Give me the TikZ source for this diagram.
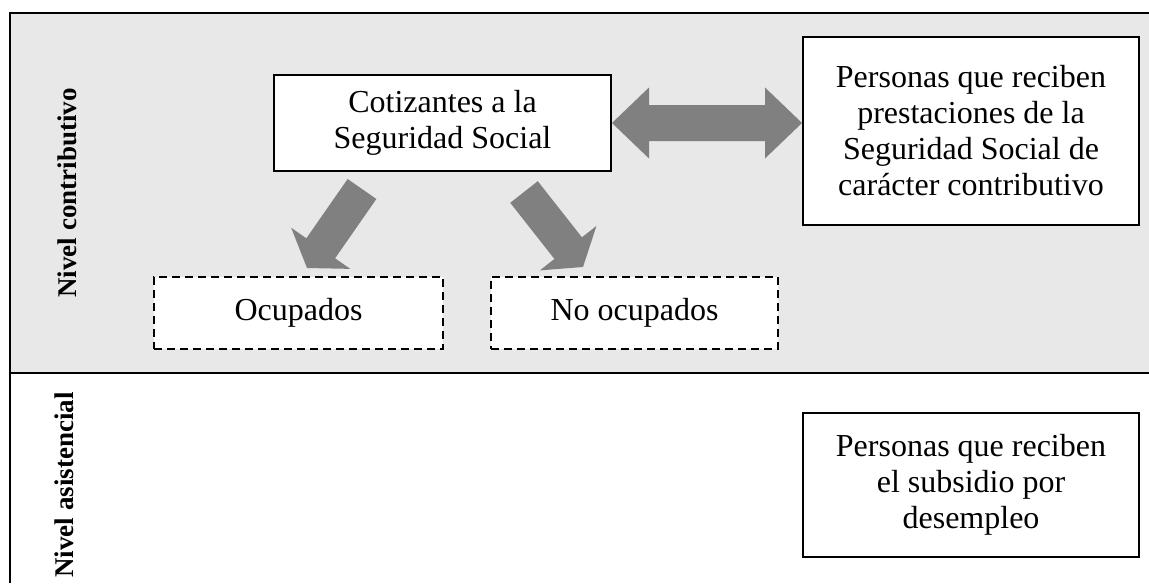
\documentclass[tikz,border=0pt]{standalone}
\usepackage{fontspec}
\setmainfont{Liberation Serif}
\usetikzlibrary{calc}

\definecolor{bandgray}{RGB}{232,232,232}
\definecolor{arrowgray}{RGB}{128,128,128}

\tikzset{
  box/.style={draw=black, line width=1pt, fill=white, align=center, inner sep=0pt,
    font=\fontsize{16}{18}\selectfont},
  dashbox/.style={box, line width=0.8pt, dash pattern=on 4pt off 2.5pt},
  level/.style={rotate=90, inner sep=0pt, font=\fontsize{13.5}{16}\selectfont\bfseries},
  frame/.style={draw=black, line width=1.2pt},
}

% block arrow from #1 to #2 (shaft half width #3, head half width #4, head length #5)
\newcommand{\blockarrow}[5]{%
  \fill[arrowgray] ($(#1)!#3!90:(#2)$)
    -- ($($(#2)!#5!(#1)$)!#3!90:(#2)$)
    -- ($($(#2)!#5!(#1)$)!#4!90:(#2)$)
    -- (#2)
    -- ($($(#2)!#5!(#1)$)!#4!-90:(#2)$)
    -- ($($(#2)!#5!(#1)$)!#3!-90:(#2)$)
    -- ($(#1)!#3!-90:(#2)$) -- cycle;
}
% block arrow with heads at both ends
\newcommand{\doubleblockarrow}[5]{%
  \fill[arrowgray] (#1)
    -- ($($(#1)!#5!(#2)$)!#4!90:(#2)$)
    -- ($($(#1)!#5!(#2)$)!#3!90:(#2)$)
    -- ($($(#2)!#5!(#1)$)!#3!-90:(#1)$)
    -- ($($(#2)!#5!(#1)$)!#4!-90:(#1)$)
    -- (#2)
    -- ($($(#2)!#5!(#1)$)!#4!90:(#1)$)
    -- ($($(#2)!#5!(#1)$)!#3!90:(#1)$)
    -- ($($(#1)!#5!(#2)$)!#3!-90:(#2)$)
    -- ($($(#1)!#5!(#2)$)!#4!-90:(#2)$) -- cycle;
}

\begin{document}
\begin{tikzpicture}[x=0.5pt,y=-0.5pt]

\useasboundingbox (0,0) rectangle (1149,583);

% bands
\fill[bandgray] (10,13) rectangle (1149,373);
\draw[frame] (1149,13) -- (10,13) -- (10,583);
\draw[frame] (10,373) -- (1149,373);

\node[level] (contrib) at (67,193) {Nivel contributivo};
\node[level] (asist) at (64,485) {Nivel asistencial};

% boxes
\node[box, minimum width=168.5pt, minimum height=48pt] (cot) at (442.5,123)
  {Cotizantes a la\\Seguridad Social};
\node[box, minimum width=168pt, minimum height=94pt] (prest) at (971,131)
  {Personas que reciben\\prestaciones de la\\Seguridad Social de\\car\'acter contributivo};
\node[dashbox, minimum width=144.5pt, minimum height=36pt] (ocu) at (298.5,313) {Ocupados};
\node[dashbox, minimum width=143.5pt, minimum height=36pt] (noocu) at (634.5,313) {No ocupados};
\node[box, minimum width=168pt, minimum height=72pt] (subs) at (971,485)
  {Personas que reciben\\el subsidio por\\desempleo};

% arrows
\coordinate (cot-l) at (362,189);
\coordinate (ocu-tip) at (307,268);
\coordinate (cot-r) at (524,192);
\coordinate (noocu-tip) at (583,267);

\blockarrow{cot-l}{ocu-tip}{8.75pt}{18pt}{12pt}
\blockarrow{cot-r}{noocu-tip}{8.75pt}{18pt}{12pt}
\doubleblockarrow{cot.east}{prest.west |- cot.east}{9pt}{17.75pt}{18.5pt}

\end{tikzpicture}
\end{document}
